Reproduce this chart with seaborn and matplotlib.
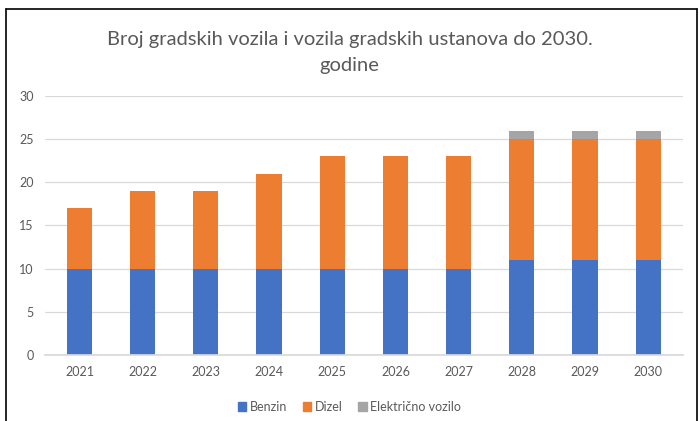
import numpy as np
import pandas as pd
import matplotlib
matplotlib.use('Agg')
import matplotlib.pyplot as plt
from matplotlib.lines import Line2D
from matplotlib.patches import Patch
import seaborn as sns

years = ['2021', '2022', '2023', '2024', '2025', '2026', '2027', '2028', '2029', '2030']
benzin = [10, 10, 10, 10, 10, 10, 10, 11, 11, 11]
dizel = [7, 9, 9, 11, 13, 13, 13, 14, 14, 14]
elektricno = [0, 0, 0, 0, 0, 0, 0, 1, 1, 1]
series_names = ['Benzin', 'Dizel', 'Električno vozilo']
colors = ['#4472C4', '#ED7D31', '#A5A5A5']

df = pd.DataFrame({'godina': years, 'Benzin': benzin, 'Dizel': dizel,
                   'Električno vozilo': elektricno})

sns.set_theme(style='white')
plt.rcParams['font.family'] = ['Lato', 'DejaVu Sans']
text_col = '#595959'

fig = plt.figure(figsize=(6.99, 4.21), dpi=100)
ax = fig.add_axes([0.064, 0.157, 0.913, 0.615])

# stacked bars
bottom = np.zeros(len(years))
for name, col in zip(series_names, colors):
    sns.barplot(data=df, x='godina', y=name, color=col, width=0.4,
                bottom=bottom, ax=ax, saturation=1, linewidth=0)
    bottom = bottom + df[name].values

ax.set_ylim(0, 30)
ax.set_yticks(range(0, 31, 5))
ax.set_xlim(-0.55, len(years) - 0.45)
ax.yaxis.grid(True, color='#D9D9D9', linewidth=0.9)
ax.set_axisbelow(True)
for s in ['top', 'right', 'left']:
    ax.spines[s].set_visible(False)
ax.spines['bottom'].set_color('#D9D9D9')
ax.tick_params(axis='both', length=0, labelsize=9, colors=text_col, pad=8)
ax.set_xlabel('')
ax.set_ylabel('')

fig.text(0.5, 0.875, 'Broj gradskih vozila i vozila gradskih ustanova do 2030.\ngodine',
         ha='center', va='center', fontsize=14.5, color=text_col, linespacing=1.6)

handles = [Patch(color=c, label=n) for n, c in zip(series_names, colors)]
fig.legend(handles=handles, loc='center', bbox_to_anchor=(0.5, 0.033), ncol=3,
           frameon=False, fontsize=9, handlelength=0.7, handleheight=0.7,
           handletextpad=0.3, columnspacing=1.2, labelcolor=text_col)

# outer frame of the original chart box
fig.add_artist(Line2D([0.008, 0.997], [0.979, 0.979], color='black', lw=1.2))
fig.add_artist(Line2D([0.008, 0.008], [0.0, 0.979], color='black', lw=1.2))
fig.add_artist(Line2D([0.997, 0.997], [0.0, 0.979], color='black', lw=1.2))

fig.savefig('out.png', dpi=100)
